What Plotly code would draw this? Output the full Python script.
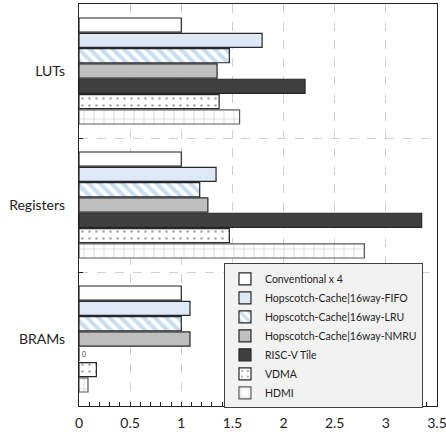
import plotly.graph_objects as go

categories = ["LUTs", "Registers", "BRAMs"]
series_names = [
    "Conventional x 4",
    "Hopscotch-Cache|16way-FIFO",
    "Hopscotch-Cache|16way-LRU",
    "Hopscotch-Cache|16way-NMRU",
    "RISC-V Tile",
    "VDMA",
    "HDMI",
]
conventional = [1.0, 1.0, 1.0]
fifo = [1.79, 1.34, 1.085]
lru = [1.47, 1.18, 1.0]
nmru = [1.35, 1.26, 1.085]
riscv = [2.21, 3.35, 0.0]
vdma = [1.37, 1.47, 0.17]
hdmi = [1.57, 2.79, 0.088]
riscv_labels = ["", "", "0"]
x_ticks = [0, 0.5, 1, 1.5, 2, 2.5, 3, 3.5]
x_tick_text = ["0", "0.5", "1", "1.5", "2", "2.5", "3", "3.5"]

values = [conventional, fifo, lru, nmru, riscv, vdma, hdmi]
styles = [
    dict(color="white", pattern=dict(shape=""), line=dict(color="#262626", width=1.2)),
    dict(color="#dde9f6", pattern=dict(shape=""), line=dict(color="#262626", width=1.2)),
    dict(color="white", pattern=dict(shape="\\", fgcolor="#8fbbe6", size=8, solidity=0.5),
         line=dict(color="#262626", width=1.2)),
    dict(color="#bfbfbf", pattern=dict(shape=""), line=dict(color="#262626", width=1.2)),
    dict(color="#404040", pattern=dict(shape=""), line=dict(color="#262626", width=1.2)),
    dict(color="white", pattern=dict(shape=".", fgcolor="#555555", size=7, solidity=0.12),
         line=dict(color="#262626", width=1.2)),
    dict(color="white", pattern=dict(shape="+", fgcolor="#7f7f7f", size=10, solidity=0.1),
         line=dict(color="#595959", width=1.2)),
]

fig = go.Figure()
for i, (name, vals, st) in enumerate(zip(series_names, values, styles)):
    kw = {}
    if name == "RISC-V Tile":
        kw = dict(text=riscv_labels, textposition="outside",
                  textfont=dict(size=7, color="#404040", family="Lato"), cliponaxis=False)
    fig.add_trace(go.Bar(
        y=categories, x=vals, name=name, orientation="h",
        marker=dict(color=st["color"], pattern=st["pattern"], line=st["line"]),
        **kw,
    ))

fig.update_layout(
    width=446, height=435,
    margin=dict(l=79, r=9, t=4, b=29, autoexpand=False),
    paper_bgcolor="white", plot_bgcolor="white",
    barmode="group", bargap=0.2, bargroupgap=0.08,
    font=dict(family="Lato", size=14, color="#222222"),
    showlegend=True,
    legend=dict(
        x=0.405, y=0.355, xanchor="left", yanchor="top",
        bgcolor="#f2f2f2", bordercolor="#404040", borderwidth=1,
        font=dict(family="Lato", size=10.5, color="#222222"),
        traceorder="normal", itemwidth=30, tracegroupgap=0,
    ),
    xaxis=dict(
        range=[0, 3.5], tickvals=x_ticks, ticktext=x_tick_text, automargin=False,
        ticklabeloverflow="allow", ticklabelstandoff=4,
        showgrid=True, gridcolor="#d0d0d0", griddash="dash", gridwidth=1,
        showline=True, linecolor="#222222", linewidth=1.3, mirror=True,
        ticks="inside", ticklen=4, tickcolor="#222222",
        minor=dict(dtick=0.1, ticks="inside", ticklen=4, tickcolor="#222222", showgrid=False),
        zeroline=False, tickfont=dict(size=14), fixedrange=True,
    ),
    yaxis=dict(
        type="category", autorange="reversed", tickson="boundaries", automargin=False,
        showgrid=True, gridcolor="#d0d0d0", griddash="dash", gridwidth=1,
        showline=True, linecolor="#222222", linewidth=1.3, mirror=True,
        ticks="inside", ticklen=4, tickcolor="#222222",
        ticklabelstandoff=10, tickfont=dict(size=14),
    ),
)

fig.write_html("out.html", config={"displayModeBar": False},
               post_script="document.body.style.margin='0';")
